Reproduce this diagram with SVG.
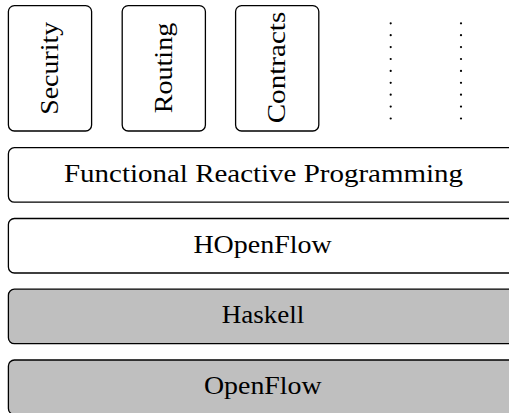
<svg xmlns="http://www.w3.org/2000/svg" width="509" height="413" viewBox="0 0 509 413">
<style>
.box{fill:#ffffff;stroke:#000000;stroke-width:1.3}
.gray{fill:#bfbfbf;stroke:#000000;stroke-width:1.3}
.lbl{font-family:"Liberation Serif","Times New Roman",serif;font-size:26px;fill:#000000;text-anchor:middle}
.dot{fill:#000000}
</style>
<g id="security">
<rect class="box" x="8.4" y="5.6" width="83.2" height="125.4" rx="6"/>
<text class="lbl" transform="translate(58.3,68.3) rotate(-90)" textLength="93" lengthAdjust="spacingAndGlyphs">Security</text>
</g>
<g id="routing">
<rect class="box" x="122.2" y="5.6" width="83.2" height="125.4" rx="6"/>
<text class="lbl" transform="translate(171.8,68) rotate(-90)" textLength="90.6" lengthAdjust="spacingAndGlyphs">Routing</text>
</g>
<g id="contracts">
<rect class="box" x="235.6" y="5.6" width="83.2" height="125.4" rx="6"/>
<text class="lbl" transform="translate(285.3,67.5) rotate(-90)" textLength="111.6" lengthAdjust="spacingAndGlyphs">Contracts</text>
</g>
<g id="ellipsis1">
<circle class="dot" cx="390.7" cy="23.3" r="1.1"/>
<circle class="dot" cx="390.7" cy="35.2" r="1.1"/>
<circle class="dot" cx="390.7" cy="47.1" r="1.1"/>
<circle class="dot" cx="390.7" cy="59.0" r="1.1"/>
<circle class="dot" cx="390.7" cy="70.9" r="1.1"/>
<circle class="dot" cx="390.7" cy="82.8" r="1.1"/>
<circle class="dot" cx="390.7" cy="94.7" r="1.1"/>
<circle class="dot" cx="390.7" cy="106.6" r="1.1"/>
<circle class="dot" cx="390.7" cy="118.5" r="1.1"/>
</g>
<g id="ellipsis2">
<circle class="dot" cx="461" cy="23.3" r="1.1"/>
<circle class="dot" cx="461" cy="35.2" r="1.1"/>
<circle class="dot" cx="461" cy="47.1" r="1.1"/>
<circle class="dot" cx="461" cy="59.0" r="1.1"/>
<circle class="dot" cx="461" cy="70.9" r="1.1"/>
<circle class="dot" cx="461" cy="82.8" r="1.1"/>
<circle class="dot" cx="461" cy="94.7" r="1.1"/>
<circle class="dot" cx="461" cy="106.6" r="1.1"/>
<circle class="dot" cx="461" cy="118.5" r="1.1"/>
</g>
<g id="frp">
<rect class="box" x="8.4" y="147.7" width="510" height="54.5" rx="6"/>
<text class="lbl" x="263.5" y="181.8" textLength="399" lengthAdjust="spacingAndGlyphs">Functional Reactive Programming</text>
</g>
<g id="hopenflow">
<rect class="box" x="8.4" y="218.5" width="510" height="54.5" rx="6"/>
<text class="lbl" x="262.6" y="252.5" textLength="138.4" lengthAdjust="spacingAndGlyphs">HOpenFlow</text>
</g>
<g id="haskell">
<rect class="gray" x="8.4" y="289.2" width="510" height="54.5" rx="6"/>
<text class="lbl" x="263" y="323" textLength="82.6" lengthAdjust="spacingAndGlyphs">Haskell</text>
</g>
<g id="openflow">
<rect class="gray" x="8.4" y="360" width="510" height="54.5" rx="6"/>
<text class="lbl" x="262.8" y="394" textLength="117.7" lengthAdjust="spacingAndGlyphs">OpenFlow</text>
</g>
</svg>
